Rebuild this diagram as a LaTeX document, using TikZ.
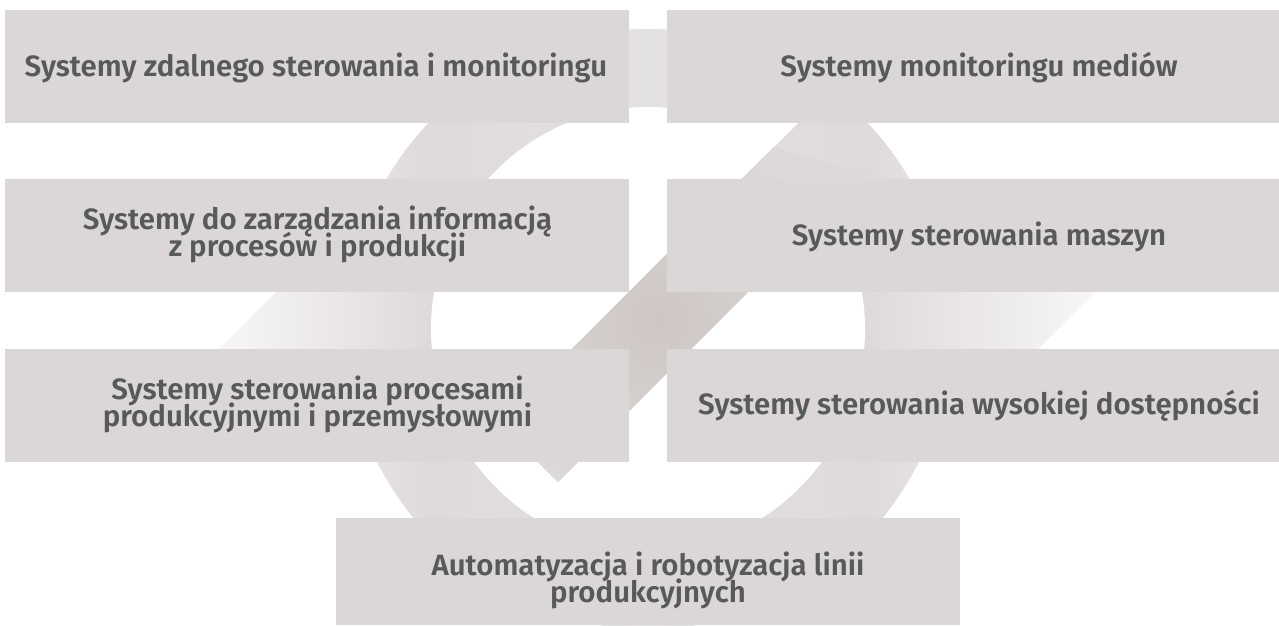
\documentclass[tikz,border=0pt]{standalone}
\usepackage{fontspec}
\newfontfamily\boxfont{Fira Sans SemiBold}
\newcommand\mytightlines{\lineskiplimit=-40pt\relax\lineskip=0pt\relax}
\definecolor{boxc}{HTML}{DBD7D6}
\definecolor{txtc}{HTML}{58595B}
\definecolor{ringW}{HTML}{F8F7F6}
\definecolor{ringD}{HTML}{DEDAD9}
\definecolor{ringM}{HTML}{E4E2E1}
\definecolor{bandD}{HTML}{CDC6C4}
\definecolor{bandL}{HTML}{DDD9D8}
\pgfdeclarehorizontalshading{ringshade}{100bp}{color(0bp)=(ringW); color(33.6bp)=(ringW); color(41.8bp)=(ringD); color(50.3bp)=(ringM); color(58.9bp)=(ringD); color(67.8bp)=(ringW); color(100bp)=(ringW)}
\begin{document}
\begin{tikzpicture}[x=1pt,y=-1pt,
  boxst/.style={fill=boxc, draw=none, inner sep=0pt, rectangle},
  txt/.style={font=\boxfont\fontsize{29.4}{27}\selectfont\mytightlines, text=txtc, align=center, anchor=base, inner sep=0pt}]
\useasboundingbox (0,0) rectangle (1279,625);
\fill[white] (0,0) rectangle (1279,625);
% ring
\begin{scope}
  \clip (648,329) ellipse [x radius=302, y radius=300];
  \shade[shading=ringshade] (0,0) rectangle (1279,625);
\end{scope}
\begin{scope}
  \clip (387,181) -- (148,420) -- (380,440) -- cycle;
  \shade[shading=ringshade] (0,0) rectangle (1279,625);
\end{scope}
\begin{scope}
  \clip (929,458) -- (1148,239) -- (915,225) -- cycle;
  \shade[shading=ringshade] (0,0) rectangle (1279,625);
\end{scope}
\fill[white] (648,329) ellipse [x radius=217, y radius=222];
\fill[white] (700,118) -- (735,0) -- (921,0) -- (760,161) -- cycle;
% diagonal band
\fill[bandL] (498.5,422.5) -- (558,482) -- (866,174) -- (773.5,147) -- cycle;
\begin{scope}
  \clip (498.5,422.5) -- (558,482) -- (866,174) -- (773.5,147) -- cycle;
  \shade[inner color=bandD, outer color=bandL] (660,320) circle (190);
\end{scope}
% boxes
\node[boxst, minimum width=624pt, minimum height=112.7pt] (b1) at (317,66.35) {};
\node[boxst, minimum width=612pt, minimum height=112.7pt] (b2) at (973,66.35) {};
\node[boxst, minimum width=624pt, minimum height=112.7pt] (b3) at (317,235.35) {};
\node[boxst, minimum width=612pt, minimum height=112.7pt] (b4) at (973,235.35) {};
\node[boxst, minimum width=624pt, minimum height=112.7pt] (b5) at (317,405.35) {};
\node[boxst, minimum width=612pt, minimum height=112.7pt] (b6) at (973,405.35) {};
\node[boxst, minimum width=624pt, minimum height=107pt] (b7) at (648,571.5) {};
% texts (base anchor = baseline of the last line)
\node[txt] (t1) at (316,76.5) {Systemy zdalnego sterowania i monitoringu};
\node[txt] (t2) at (979,76.5) {Systemy monitoringu mediów};
\node[txt] (t3) at (317.5,256.85) {Systemy do zarządzania informacją\\z procesów i produkcji};
\node[txt] (t4) at (979,245.5) {Systemy sterowania maszyn};
\node[txt] (t5) at (317.5,426.85) {Systemy sterowania procesami\\produkcyjnymi i przemysłowymi};
\node[txt] (t6) at (979,414) {Systemy sterowania wysokiej dostępności};
\node[txt] (t7) at (648,602.5) {Automatyzacja i robotyzacja linii\\produkcyjnych};
\end{tikzpicture}
\end{document}
